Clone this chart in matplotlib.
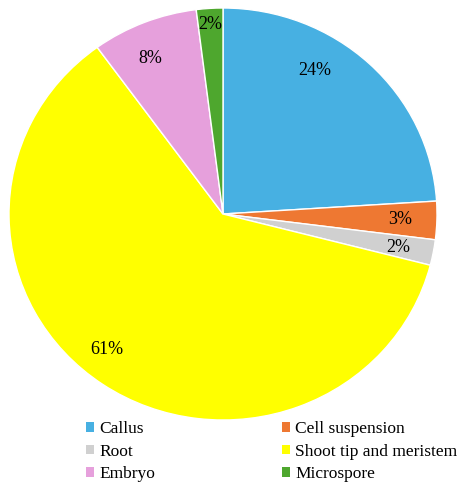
import numpy as np
import matplotlib
matplotlib.use("Agg")
import matplotlib.pyplot as plt
from matplotlib.patches import Patch

plt.rcParams["font.family"] = ["Liberation Serif", "DejaVu Serif"]

# Share of studies per explant source
categories = ["Callus", "Cell suspension", "Root", "Shoot tip and meristem", "Embryo", "Microspore"]
shares = [24, 3, 2, 61, 8, 2]
colors = ["#47B0E2", "#EE7832", "#D0D0D0", "#FFFF00", "#E6A0DC", "#4EA72E"]

fig = plt.figure(figsize=(4.58, 4.84), dpi=100)
# the original pie is slightly squashed vertically
ax = fig.add_axes([9 / 458, 1 - 420 / 484, 428 / 458, 412 / 484])

wedges, texts, autotexts = ax.pie(
    shares, colors=colors, startangle=90, counterclock=False,
    autopct="%1.0f%%", pctdistance=0.82, radius=1.0,
    wedgeprops=dict(edgecolor="white", linewidth=1.0),
    textprops=dict(fontsize=13, color="black"),
)

# nudge labels to where the original puts them (angle in degrees, radius)
label_pos = [(58.4, 0.82), (-2, 0.83), (-11.1, 0.833), (-129.4, 0.854), (114.3, 0.83), (93.8, 0.92)]
for t, (ang, r) in zip(autotexts, label_pos):
    a = np.deg2rad(ang)
    t.set_position((r * np.cos(a), r * np.sin(a)))

ax.set_xlim(-1, 1)
ax.set_ylim(-1, 1)
ax.set_aspect("auto")
ax.axis("off")

handles = [Patch(facecolor=c, edgecolor="none") for c in colors]
order = [0, 2, 4, 1, 3, 5]
fig.legend([handles[i] for i in order], [categories[i] for i in order],
           loc="upper left", bbox_to_anchor=(86 / 458, 1 - 421 / 484),
           ncol=2, frameon=False, fontsize=12.5,
           handlelength=0.47, handleheight=0.47, handletextpad=0.3,
           labelspacing=0.38, columnspacing=7.3, borderaxespad=0, borderpad=0)

fig.savefig("out.png", dpi=100)
